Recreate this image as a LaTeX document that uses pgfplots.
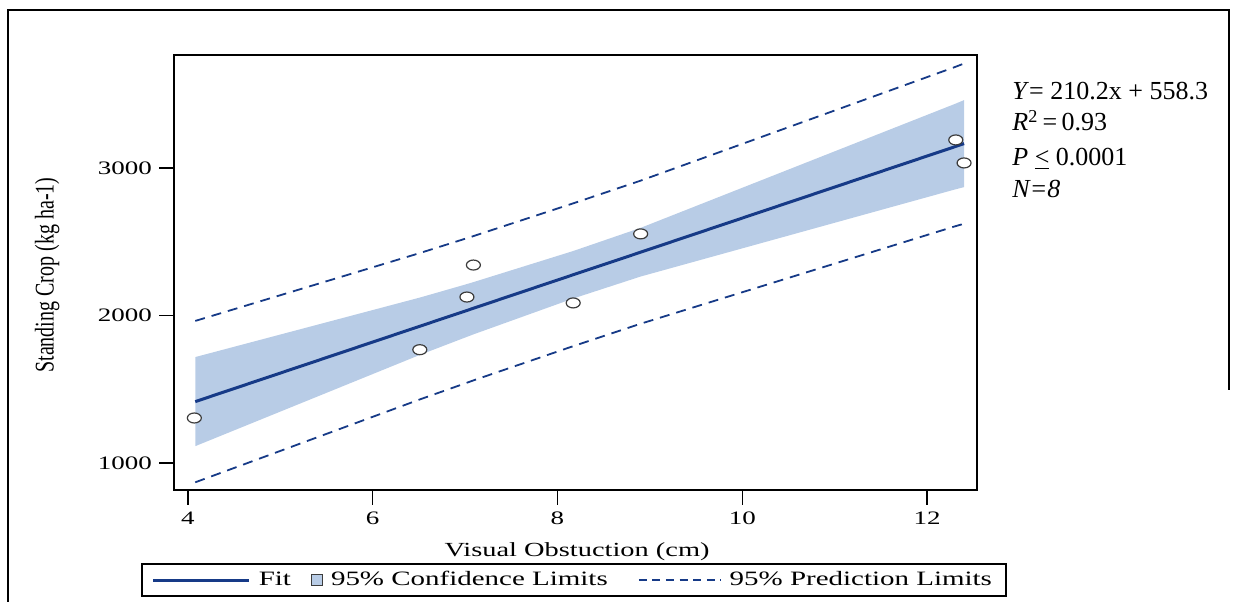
\documentclass[border=0pt]{standalone}
\usepackage{fontspec}
\setmainfont{Liberation Serif}
\newfontfamily\wide[FakeStretch=1.42]{Liberation Serif}
\usepackage{pgfplots}
\usepackage{pgfplotstable}
\pgfplotsset{compat=1.18}
\usepgfplotslibrary{fillbetween}
\definecolor{fitc}{RGB}{22,58,135}
\definecolor{bandc}{RGB}{184,204,230}
\definecolor{markc}{RGB}{60,60,60}

\pgfplotstableread{
x fit ucl lcl upl lpl
4.08 1416 1718 1114 1963 869
6.52 1929 2123 1735 2425 1433
7.02 2034 2213 1855 2524 1544
7.10 2051 2228 1874 2540 1562
8.17 2276 2437 2115 2760 1792
8.90 2429 2594 2264 2914 1944
12.30 3144 3434 2854 3684 2604
12.40 3165 3460 2870 3708 2622
}\bands

\pgfplotstableread{
x y
4.07 1305
6.51 1768
7.02 2125
7.09 2342
8.17 2085
8.90 2553
12.31 3190
12.40 3034
}\obs

\begin{document}
\begin{tikzpicture}
\begin{axis}[
  scale only axis,
  width=401.5pt, height=217.5pt,
  xmin=3.85, xmax=12.54,
  ymin=817, ymax=3766,
  xtick={4,6,8,10,12},
  ytick={1000,2000,3000},
  /pgf/number format/assume math mode=true,
  /pgf/number format/1000 sep={},
  tick label style={font=\wide\fontsize{9.5}{11}\selectfont},
  tick align=outside,
  tick pos=left,
  major tick length=7.5pt,
  tick style={black, line width=0.75pt},
  axis line style={black, line width=1.2pt},
  xlabel={Visual Obstuction (cm)},
  xlabel style={font=\wide\fontsize{10}{12}\selectfont, at={(axis description cs:0.502,-0.142)}, anchor=center},
  ylabel={\scalebox{1}[1.35]{Standing Crop (kg ha-1)}},
  ylabel style={font=\fontsize{10}{12}\selectfont, at={(axis description cs:-0.158,0.494)}, anchor=center},
  clip=false,
  legend columns=3,
  legend style={at={(axis description cs:0.498,-0.207)}, anchor=center,
    font=\wide\fontsize{10.2}{12}\selectfont,
    draw=black, line width=1pt, inner xsep=5pt, inner ysep=1.5pt,
    /tikz/every odd column/.append style={column sep=2pt},
    /tikz/every even column/.append style={column sep=8pt}},
]
\addplot[name path=ucl, draw=none, forget plot] table[x=x, y=ucl] {\bands};
\addplot[name path=lcl, draw=none, forget plot] table[x=x, y=lcl] {\bands};
\addplot[bandc, forget plot] fill between[of=ucl and lcl];
\addplot[fitc, line width=1.5pt, forget plot] table[x=x, y=fit] {\bands};
\addplot[fitc, line width=0.9pt, dash pattern=on 5pt off 3.5pt, forget plot] table[x=x, y=upl] {\bands};
\addplot[fitc, line width=0.9pt, dash pattern=on 5pt off 3.5pt, forget plot] table[x=x, y=lpl] {\bands};
\addplot[only marks, mark=*, mark size=2.5pt, mark options={xscale=1.4, fill=white, draw=markc, line width=0.6pt}, forget plot] table[x=x, y=y] {\obs};

\addlegendimage{legend image code/.code={\draw[fitc, line width=1.5pt] (0pt,0pt) -- (48pt,0pt);}}
\addlegendentry{Fit}
\addlegendimage{legend image code/.code={\draw[fill=bandc, draw=markc, line width=0.6pt] (0pt,-2.6pt) rectangle (5.4pt,2.6pt);}}
\addlegendentry{95\% Confidence Limits}
\addlegendimage{legend image code/.code={\path (0pt,0pt); \draw[fitc, line width=0.9pt, dash pattern=on 4pt off 2.8pt] (5pt,0pt) -- (46pt,0pt);}}
\addlegendentry{95\% Prediction Limits}

\node[anchor=base west, inner sep=0pt, font=\fontsize{13}{15}\selectfont] at (axis description cs:1.0436,0.8966) {\textit{Y}= 210.2x + 558.3};
\node[anchor=base west, inner sep=0pt, font=\fontsize{13}{15}\selectfont] at (axis description cs:1.0436,0.8253) {\textit{R}\textsuperscript{2}\,=\,0.93};
\node[anchor=base west, inner sep=0pt, font=\fontsize{13}{15}\selectfont] at (axis description cs:1.0436,0.7448) {\textit{P} \underline{<} 0.0001};
\node[anchor=base west, inner sep=0pt, font=\fontsize{13}{15}\selectfont] at (axis description cs:1.0436,0.6713) {\textit{N=8}};

\draw[black, line width=1.2pt] (axis description cs:-0.2067,-0.2575) -- (axis description cs:-0.2067,1.1034) -- (axis description cs:1.3138,1.1034) -- (axis description cs:1.3138,0.23);

\coordinate (bl) at (axis description cs:-0.2167,-0.2575);
\coordinate (tr) at (axis description cs:1.3188,1.1264);
\end{axis}
\pgfresetboundingbox
\path[use as bounding box] (bl) rectangle (tr);
\end{tikzpicture}
\end{document}
